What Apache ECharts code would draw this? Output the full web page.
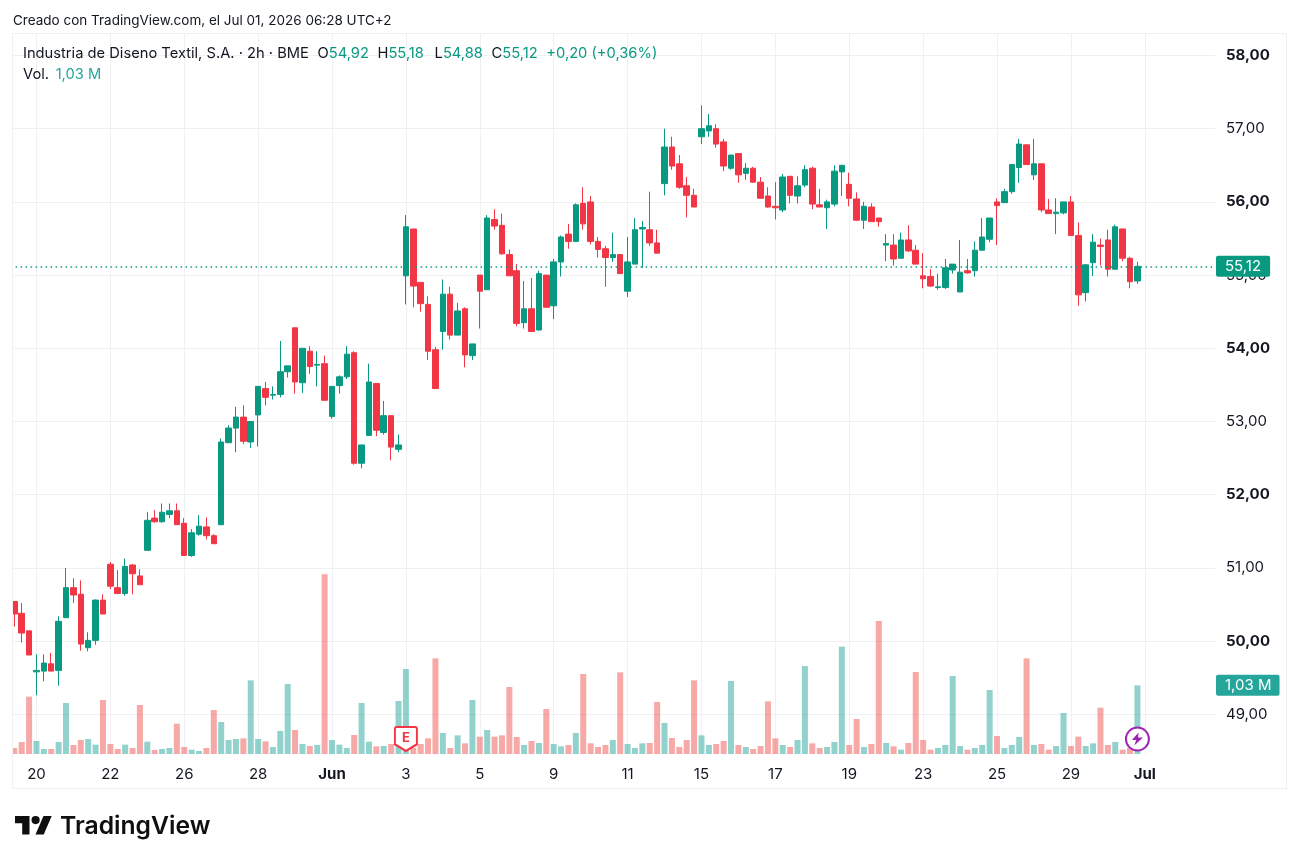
<!DOCTYPE html>
<html lang="es">
<head>
<meta charset="utf-8">
<title>Industria de Diseno Textil, S.A. · 2h · BME</title>
<style>
  html, body { margin: 0; padding: 0; background: #fff; }
  #chart { width: 1299px; height: 863px; }
</style>
<script src="https://cdn.jsdelivr.net/npm/echarts@6/dist/echarts.min.js"></script>
</head>
<body>
<div id="chart"></div>
<script>
// Two-hour bars, 20 May to 1 Jul, five bars per session.
const opens = [
  50.54,50.38,50.14,49.58,49.59,49.69,49.60,50.32,50.73,50.64,
  49.91,50.01,50.56,51.05,50.73,50.65,51.04,50.89,51.24,51.68,
  51.63,51.73,51.78,51.61,51.17,51.46,51.56,51.44,51.59,52.71,
  52.91,53.06,52.72,53.09,53.45,53.36,53.37,53.68,54.28,53.53,
  53.96,53.77,53.79,53.07,53.49,53.61,53.94,52.43,52.81,53.52,
  52.85,53.08,52.62,54.99,55.63,54.90,54.60,53.98,54.23,54.74,
  54.18,54.54,53.90,55.00,54.80,55.76,55.68,55.28,55.06,54.35,
  54.54,54.25,55.00,54.58,55.18,55.56,55.46,55.98,56.00,55.46,
  55.36,55.24,55.28,54.78,55.15,55.63,55.62,55.44,56.25,56.75,
  56.52,56.22,56.09,56.89,56.97,57.00,56.82,56.46,56.66,56.39,
  56.46,56.27,56.08,55.94,55.89,56.35,56.08,56.23,56.46,55.96,
  55.92,55.97,56.41,56.24,56.04,55.75,55.93,55.78,55.41,55.41,
  55.23,55.48,55.34,54.99,54.98,54.83,54.83,55.07,54.77,55.06,
  55.06,55.34,55.49,56.00,55.99,56.14,56.47,56.78,56.37,56.52,
  55.89,55.84,55.85,56.00,55.54,54.76,55.17,55.41,55.48,55.08,
  55.63,55.23,54.92
];
const closes = [
  50.37,50.11,49.81,49.60,49.70,49.59,50.27,50.73,50.63,49.96,
  50.01,50.56,50.37,50.75,50.65,51.02,50.92,50.77,51.65,51.63,
  51.76,51.78,51.59,51.17,51.48,51.57,51.44,51.33,52.72,52.91,
  53.06,52.73,53.00,53.48,53.33,53.37,53.68,53.76,53.54,54.00,
  53.75,53.78,53.29,53.48,53.61,53.92,52.43,52.68,53.54,52.88,
  53.08,52.65,52.68,55.66,54.85,54.61,53.96,53.45,54.74,54.18,
  54.51,53.91,54.06,54.78,55.78,55.67,55.29,54.99,54.34,54.54,
  54.23,55.02,54.56,55.18,55.52,55.46,55.96,55.70,55.46,55.35,
  55.24,55.28,55.02,55.18,55.62,55.65,55.44,55.30,56.75,56.49,
  56.20,56.09,55.93,57.00,57.04,56.79,56.49,56.64,56.37,56.46,
  56.27,56.05,55.93,55.92,56.34,56.09,56.22,56.44,55.97,55.93,
  56.00,56.42,56.50,56.05,55.75,55.94,55.73,55.73,55.43,55.22,
  55.48,55.33,55.15,54.95,54.85,54.84,55.10,55.15,55.04,55.03,
  55.34,55.52,55.78,55.95,56.14,56.51,56.79,56.51,56.52,55.89,
  55.84,55.86,56.00,55.54,54.73,55.14,55.45,55.39,55.08,55.66,
  55.23,54.91,55.12
];
const highs = [
  50.54,50.52,50.14,49.82,49.82,49.84,50.34,51.00,50.86,50.83,
  50.12,50.57,50.64,51.08,50.97,51.13,51.05,50.98,51.76,51.79,
  51.88,51.88,51.88,51.68,51.53,51.72,51.69,51.46,52.77,52.95,
  53.20,53.22,53.00,53.48,53.54,53.48,54.10,53.76,54.28,54.00,
  54.03,53.96,53.90,53.48,53.63,54.03,53.96,52.68,53.79,53.52,
  53.28,53.08,52.82,55.82,55.63,54.90,54.71,54.02,54.94,54.84,
  54.62,54.56,54.06,55.00,55.82,55.90,55.84,55.35,55.15,54.92,
  54.96,55.06,55.00,55.22,55.54,55.70,55.98,56.20,56.08,55.52,
  55.40,55.58,55.28,55.52,55.78,55.74,56.14,55.62,57.00,56.89,
  56.64,56.34,56.18,57.32,57.20,57.06,56.86,56.64,56.66,56.53,
  56.48,56.34,56.20,56.27,56.38,56.35,56.35,56.50,56.48,56.18,
  56.03,56.50,56.50,56.40,56.13,56.00,55.98,55.78,55.56,55.56,
  55.58,55.68,55.41,55.30,55.08,55.02,55.22,55.15,55.48,55.22,
  55.46,55.78,55.78,56.05,56.18,56.51,56.86,56.78,56.86,56.52,
  56.04,56.05,56.00,56.08,55.72,55.15,55.56,55.50,55.62,55.69,
  55.63,55.25,55.18
];
const lows = [
  50.20,49.98,49.81,49.26,49.45,49.59,49.39,50.32,50.52,49.87,
  49.86,49.95,50.37,50.71,50.65,50.62,50.64,50.77,51.24,51.62,
  51.62,51.68,51.59,51.17,51.15,51.44,51.39,51.33,51.59,52.71,
  52.58,52.69,52.64,52.66,53.22,53.30,53.33,53.60,53.38,53.39,
  53.65,53.48,53.29,53.04,53.38,53.58,52.41,52.36,52.81,52.80,
  52.82,52.47,52.58,54.60,54.56,54.50,53.84,53.45,53.98,54.12,
  54.18,53.74,53.84,54.27,54.80,55.62,55.28,54.99,54.30,54.27,
  54.23,54.24,54.56,54.40,54.98,55.36,55.45,55.62,55.42,55.24,
  54.84,55.18,55.02,54.70,55.15,55.10,55.40,55.30,56.09,56.44,
  56.18,55.79,55.93,56.79,56.89,56.74,56.42,56.44,56.26,56.30,
  56.26,56.04,55.92,55.76,55.86,55.98,55.98,56.20,55.90,55.93,
  55.63,55.94,56.08,55.94,55.74,55.63,55.73,55.66,55.19,55.13,
  55.23,55.32,55.15,54.82,54.84,54.80,54.81,55.02,54.77,55.02,
  54.98,55.34,55.45,55.41,55.99,56.11,56.26,56.51,56.30,55.86,
  55.84,55.56,55.83,55.54,54.58,54.64,54.99,55.13,54.98,55.08,
  55.19,54.82,54.88
];
// Volume in millions of shares.
const volumes = [
  0.09,0.18,0.86,0.195,0.075,0.075,0.18,0.765,0.135,0.21,
  0.225,0.14,0.81,0.15,0.075,0.14,0.09,0.735,0.185,0.06,
  0.075,0.09,0.455,0.105,0.065,0.045,0.09,0.66,0.48,0.21,
  0.225,0.235,1.105,0.225,0.19,0.105,0.345,1.05,0.36,0.15,
  0.12,0.135,2.695,0.21,0.14,0.09,0.285,0.765,0.185,0.115,
  0.12,0.15,0.795,1.275,0.09,0.15,0.235,1.435,0.315,0.09,
  0.28,0.16,0.81,0.26,0.36,0.26,0.28,1.005,0.255,0.135,
  0.195,0.165,0.675,0.15,0.115,0.135,0.315,1.2,0.16,0.105,
  0.135,0.21,1.225,0.15,0.09,0.16,0.165,0.78,0.465,0.24,
  0.105,0.21,1.105,0.28,0.135,0.15,0.195,1.095,0.135,0.105,
  0.075,0.12,0.79,0.235,0.135,0.105,0.21,1.32,0.16,0.09,
  0.105,0.18,1.61,0.135,0.525,0.105,0.15,1.995,0.165,0.115,
  0.065,0.165,1.23,0.21,0.065,0.09,0.135,1.17,0.12,0.065,
  0.09,0.135,0.96,0.27,0.09,0.135,0.255,1.435,0.135,0.15,
  0.065,0.12,0.615,0.12,0.26,0.12,0.16,0.695,0.135,0.18,
  0.065,0.09,1.03
];
const dayLabels = ['20','22','26','28','Jun','3','5','9','11','15','17','19','23','25','29','Jul'];
const monthLabels = ['Jun', 'Jul'];
const priceTicks = { min: 49, max: 58, step: 1 };
const earningsBar = 53;
const lastClose = closes[closes.length - 1];
const lastVolume = volumes[volumes.length - 1];

const UP = '#089981', DOWN = '#F23645';
const VOL_UP = 'rgba(38,166,154,0.5)', VOL_DOWN = 'rgba(239,83,80,0.5)';
const GRID = '#EFF0F2', INK = '#131722';
const FONT = 'Inter, "Noto Sans", sans-serif';

// The axis runs past the last bar to leave room on the right.
const SLOTS = 163;
const FIRST_TICK = 3, TICK_EVERY = 10;
const categories = Array.from({ length: SLOTS }, (_, i) => String(i));
const isTick = i => i >= FIRST_TICK && (i - FIRST_TICK) % TICK_EVERY === 0;
const comma = v => v.toFixed(2).replace('.', ',');

const candles = opens.map((o, i) => [o, closes[i], lows[i], highs[i]]);
const volumeBars = volumes.map((v, i) => ({
  value: v,
  itemStyle: { color: closes[i] >= opens[i] ? VOL_UP : VOL_DOWN }
}));

const chart = echarts.init(document.getElementById('chart'), null, { renderer: 'canvas' });
const plotLeft = 10.6, plotRight = 84;

chart.setOption({
  animation: false,
  backgroundColor: '#ffffff',
  textStyle: { fontFamily: FONT },
  grid: [
    { left: plotLeft, right: plotRight, top: 55.5, height: 658.8 },
    { left: plotLeft, right: plotRight, top: 33, height: 721 }
  ],
  xAxis: [
    { type: 'category', gridIndex: 0, data: categories, show: false },
    {
      type: 'category', gridIndex: 1, data: categories,
      axisLine: { show: false },
      axisTick: { show: false, alignWithLabel: true },
      splitLine: {
        show: true, alignWithLabel: true, interval: i => isTick(i),
        lineStyle: { color: GRID, width: 1 }
      },
      axisLabel: {
        interval: i => isTick(i),
        margin: 13,
        formatter: (_, i) => {
          const text = dayLabels[(i - FIRST_TICK) / TICK_EVERY] || '';
          return monthLabels.includes(text) ? '{b|' + text + '}' : text;
        },
        color: INK, fontFamily: FONT, fontSize: 15,
        rich: { b: { fontFamily: FONT, fontSize: 15, fontWeight: 700, color: INK } }
      }
    }
  ],
  yAxis: [
    {
      type: 'value', gridIndex: 0, position: 'right', scale: true,
      min: priceTicks.min, max: priceTicks.max, interval: priceTicks.step,
      axisLine: { show: false }, axisTick: { show: false },
      splitLine: { show: true, lineStyle: { color: GRID, width: 1 } },
      axisLabel: {
        margin: 11, color: INK, fontFamily: FONT, fontSize: 15,
        formatter: v => (v % 2 === 0 ? '{b|' + comma(v) + '}' : comma(v)),
        rich: { b: { fontFamily: FONT, fontSize: 15, fontWeight: 700, color: INK } }
      }
    },
    { type: 'value', gridIndex: 1, min: 0, max: 10.815, show: false }
  ],
  series: [
    {
      name: 'Vol', type: 'bar', xAxisIndex: 1, yAxisIndex: 1,
      data: volumeBars, barWidth: 6, z: 1,
      markLine: {
        silent: true, symbol: 'none', z: 20,
        lineStyle: { color: 'rgba(0,0,0,0)', width: 1 },
        data: [{ yAxis: lastVolume }],
        label: {
          show: true, position: 'end', distance: 1,
          formatter: () => comma(lastVolume) + ' M',
          color: '#ffffff', fontFamily: FONT, fontSize: 15,
          backgroundColor: '#26A69A', borderRadius: 2,
          padding: [3, 8, 3, 9], lineHeight: 15
        }
      },
      markPoint: {
        silent: true, z: 20, animation: false,
        data: [
          {
            coord: [earningsBar, 0.225],
            symbol: 'path://M2 0H22A2 2 0 0 1 24 2V18L12 25L0 18V2A2 2 0 0 1 2 0Z',
            symbolSize: [22, 24],
            itemStyle: { color: '#ffffff', borderColor: DOWN, borderWidth: 2 },
            label: {
              show: true, position: 'inside', formatter: 'E', offset: [0, -1],
              color: DOWN, fontFamily: FONT, fontSize: 13, fontWeight: 700
            }
          },
          {
            coord: [closes.length - 1, 0.225],
            symbol: 'circle', symbolSize: 23,
            itemStyle: { color: '#ffffff', borderColor: '#9C27B0', borderWidth: 2 },
            label: { show: false }
          },
          {
            coord: [closes.length - 1, 0.225],
            symbol: 'path://M13 0L2 14H9L6 24L20 9H12Z',
            symbolSize: [11, 13],
            itemStyle: { color: '#9C27B0' },
            label: { show: false }
          }
        ]
      }
    },
    {
      name: 'Price', type: 'candlestick', xAxisIndex: 0, yAxisIndex: 0,
      data: candles, barWidth: 6, z: 3, clip: false,
      itemStyle: { color: UP, color0: DOWN, borderColor: UP, borderColor0: DOWN, borderWidth: 1 },
      markLine: {
        silent: true, symbol: 'none', z: 20,
        lineStyle: { color: UP, width: 1.5, type: [1.5, 3.5] },
        data: [{ yAxis: lastClose }],
        label: {
          show: true, position: 'end', distance: 1,
          formatter: () => comma(lastClose),
          color: '#ffffff', fontFamily: FONT, fontSize: 15,
          backgroundColor: UP, borderRadius: 2,
          padding: [3, 9, 3, 9], lineHeight: 15
        }
      }
    }
  ],
  graphic: [
    // Margin and frame around the chart pane.
    { type: 'rect', z: 90, silent: true, shape: { x: 0, y: 30, width: 12, height: 760 }, style: { fill: '#ffffff' } },
    { type: 'rect', z: 91, silent: true, shape: { x: 12.5, y: 33.5, width: 1274, height: 755 }, style: { fill: 'none', stroke: GRID, lineWidth: 1 } },
    {
      type: 'text', z: 95, x: 13, y: 20.5, silent: true,
      style: { text: 'Creado con TradingView.com, el Jul 01, 2026 06:28 UTC+2', fill: INK, font: '13.5px ' + FONT, verticalAlign: 'middle' }
    },
    {
      type: 'text', z: 95, x: 23, y: 54, silent: true,
      style: {
        text: '{h|Industria de Diseno Textil, S.A. · 2h · BME}  {k|O}{v|' + comma(opens[152]) +
          '}  {k|H}{w|' + comma(highs[152]) + '}  {k|L}{v|' + comma(lows[152]) +
          '}  {k|C}{v|' + comma(closes[152]) + '}  {t|+0,20 (+0,36%)}',
        verticalAlign: 'middle',
        rich: {
          h: { fill: INK, font: '14.7px ' + FONT, padding: [0, 2, 0, 0] },
          k: { fill: INK, font: '14.7px ' + FONT },
          v: { fill: UP, font: '14.7px ' + FONT, padding: [0, 2, 0, 0] },
          w: { fill: UP, font: '14.7px ' + FONT, padding: [0, 4, 0, 0] },
          t: { fill: UP, font: '14.7px ' + FONT }
        }
      }
    },
    {
      type: 'text', z: 95, x: 23, y: 75, silent: true,
      style: {
        text: '{k|Vol.}  {v|' + comma(lastVolume) + ' M}',
        verticalAlign: 'middle',
        rich: {
          k: { fill: INK, font: '14.7px ' + FONT },
          v: { fill: '#26A69A', font: '14.7px ' + FONT }
        }
      }
    },
    // Brand mark and wordmark under the frame.
    { type: 'polygon', z: 95, silent: true, shape: { points: [[15, 816], [29.5, 816], [29.5, 834.6], [22.2, 834.6], [22.2, 823.2], [15, 823.2]] }, style: { fill: '#0F0F0F' } },
    { type: 'polygon', z: 95, silent: true, shape: { points: [[43.5, 816], [51.7, 816], [43.7, 834.6], [35.5, 834.6]] }, style: { fill: '#0F0F0F' } },
    { type: 'circle', z: 95, silent: true, shape: { cx: 35.6, cy: 820.1, r: 4.1 }, style: { fill: '#0F0F0F' } },
    {
      type: 'text', z: 95, x: 60, y: 826.5, silent: true,
      style: { text: 'TradingView', fill: '#0F0F0F', font: '600 24.7px ' + FONT, verticalAlign: 'middle' }
    }
  ]
});
</script>
</body>
</html>
